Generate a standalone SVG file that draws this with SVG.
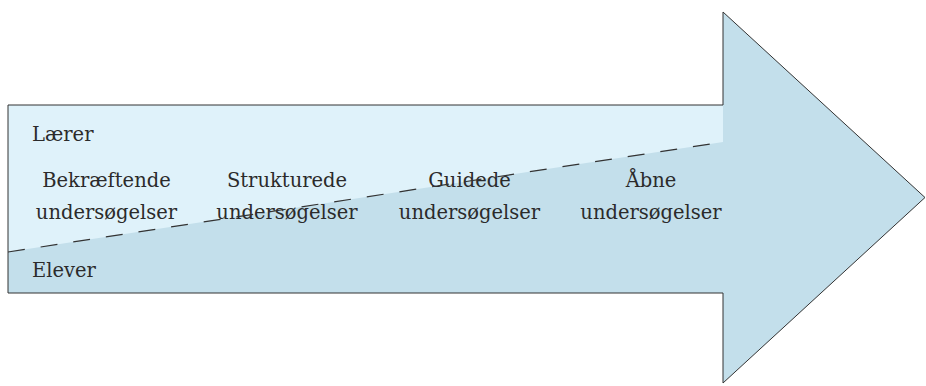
<svg xmlns="http://www.w3.org/2000/svg" width="926" height="386" viewBox="0 0 926 386">
<style>
.t{font-family:"DejaVu Serif","Liberation Serif",serif;font-size:19.5px;fill:#2b2b2b}
.c{text-anchor:middle}
</style>
<rect width="926" height="386" fill="#ffffff"/>
<g id="arrow">
<polygon points="8,105 723,105 723,12 925,197.5 723,383 723,293 8,293" fill="#c3dfeb"/>
<polygon points="8,105 723,105 723,142 8,252" fill="#dff2fa"/>
<polygon points="8,105 723,105 723,12 925,197.5 723,383 723,293 8,293" fill="none" stroke="#333333" stroke-width="1"/>
</g>
<g id="labels">
<text class="t" x="32" y="141">Lærer</text>
<text class="t" x="32" y="277">Elever</text>
</g>
<g id="n1"><text class="t c" x="106.5" y="187">Bekræftende</text><text class="t c" x="106.5" y="219">undersøgelser</text></g>
<g id="n2"><text class="t c" x="287" y="187">Strukturede</text><text class="t c" x="287" y="219">undersøgelser</text></g>
<g id="n3"><text class="t c" x="469.5" y="187">Guidede</text><text class="t c" x="469.5" y="219">undersøgelser</text></g>
<g id="n4"><text class="t c" x="651" y="187">Åbne</text><text class="t c" x="651" y="219">undersøgelser</text></g>
<g id="connectors">
<line x1="8" y1="252" x2="723" y2="142" stroke="#333333" stroke-width="1.2" stroke-dasharray="17 16"/>
</g>
</svg>
